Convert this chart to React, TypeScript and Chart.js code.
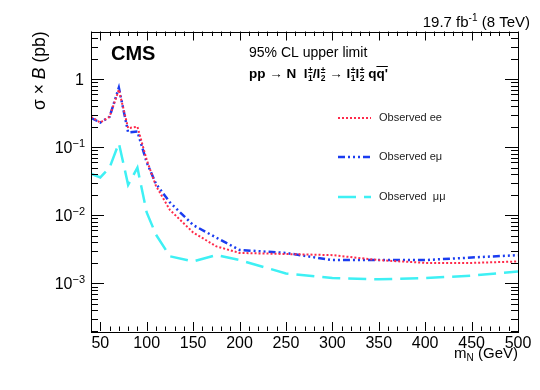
import React, { useEffect, useRef } from "react";
import { Chart, registerables } from "chart.js";

Chart.register(...registerables);

// ---- data ----
const massPoints = [40, 50, 60, 70, 80, 90, 100, 110, 125, 150, 175, 200, 250, 300, 350, 400, 450, 500];
const observedEE = [0.28, 0.23, 0.28, 0.7, 0.19, 0.2, 0.065, 0.027, 0.012, 0.0056, 0.0035, 0.0028, 0.0027, 0.0026, 0.0022, 0.002, 0.002, 0.0021];
const observedEMu = [0.27, 0.23, 0.28, 0.75, 0.165, 0.17, 0.06, 0.029, 0.0155, 0.0072, 0.0047, 0.0031, 0.0028, 0.0022, 0.0022, 0.0022, 0.0024, 0.0026];
const observedMuMu = [0.041, 0.036, 0.05, 0.115, 0.028, 0.05, 0.011, 0.0052, 0.0025, 0.0021, 0.0026, 0.0022, 0.0014, 0.0012, 0.00115, 0.0012, 0.0013, 0.0015];

const seriesLabels = ["Observed ee", "Observed e\u03bc", "Observed  \u03bc\u03bc"];
const xMajorTicks = [50, 100, 150, 200, 250, 300, 350, 400, 450, 500];
const yMajorExponents = [0, -1, -2, -3];

const X_MIN = 40;
const X_MAX = 500;
const Y_MIN = 2e-4;
const Y_MAX = 5;

const FONT = '"Liberation Sans", Arial, Helvetica, sans-serif';

type Run = { text: string; font: string; dy?: number };

function runsWidth(ctx: CanvasRenderingContext2D, runs: Run[]) {
  let w = 0;
  for (const r of runs) {
    ctx.font = r.font;
    w += ctx.measureText(r.text).width;
  }
  return w;
}

function drawRuns(ctx: CanvasRenderingContext2D, runs: Run[], x: number, y: number, align: "left" | "right" | "center") {
  const w = runsWidth(ctx, runs);
  let cx = align === "left" ? x : align === "right" ? x - w : x - w / 2;
  ctx.textAlign = "left";
  for (const r of runs) {
    ctx.font = r.font;
    ctx.fillText(r.text, cx, y + (r.dy || 0));
    cx += ctx.measureText(r.text).width;
  }
}

const decorPlugin = {
  id: "decor",
  afterDraw(chart: any) {
    const ctx: CanvasRenderingContext2D = chart.ctx;
    const xs = chart.scales.x;
    const ys = chart.scales.y;
    const { left, right, top, bottom } = chart.chartArea;
    ctx.save();
    ctx.fillStyle = "#000";
    ctx.strokeStyle = "#000";
    ctx.lineWidth = 1;
    ctx.textBaseline = "alphabetic";

    // frame
    ctx.strokeRect(Math.round(left) + 0.5, Math.round(top) + 0.5, Math.round(right - left), Math.round(bottom - top));

    // x ticks (inward, bottom and top)
    ctx.beginPath();
    for (let v = X_MIN; v <= X_MAX; v += 10) {
      const px = Math.round(xs.getPixelForValue(v)) + 0.5;
      const len = v % 50 === 0 ? 9 : 4.5;
      ctx.moveTo(px, bottom);
      ctx.lineTo(px, bottom - len);
      ctx.moveTo(px, top);
      ctx.lineTo(px, top + len);
    }
    // y ticks (inward, left and right)
    for (let e = -4; e <= 0; e++) {
      for (let k = 1; k <= 9; k++) {
        const v = k * Math.pow(10, e);
        if (v < Y_MIN * 0.999 || v > Y_MAX * 1.001) continue;
        const py = Math.round(ys.getPixelForValue(v)) + 0.5;
        const len = k === 1 ? 13 : 7;
        ctx.moveTo(left, py);
        ctx.lineTo(left + len, py);
        ctx.moveTo(right, py);
        ctx.lineTo(right - len, py);
      }
    }
    ctx.stroke();

    // x tick labels
    ctx.font = `16px ${FONT}`;
    ctx.textAlign = "center";
    for (const v of xMajorTicks) {
      ctx.fillText(String(v), xs.getPixelForValue(v), bottom + 16.5);
    }

    // y tick labels
    for (const e of yMajorExponents) {
      const py = ys.getPixelForValue(Math.pow(10, e)) + 6;
      if (e === 0) {
        drawRuns(ctx, [{ text: "1", font: `16px ${FONT}` }], left - 7, py, "right");
      } else {
        drawRuns(
          ctx,
          [
            { text: "10", font: `16px ${FONT}` },
            { text: "\u2212" + String(-e), font: `11px ${FONT}`, dy: -6.5 },
          ],
          left - 6,
          py,
          "right"
        );
      }
    }

    // x axis title
    drawRuns(
      ctx,
      [
        { text: "m", font: `15px ${FONT}` },
        { text: "N", font: `10px ${FONT}`, dy: 3 },
        { text: " (GeV)", font: `15px ${FONT}` },
      ],
      right,
      bottom + 27,
      "right"
    );

    // y axis title (rotated, right-aligned to top of frame)
    ctx.save();
    ctx.translate(45, top);
    ctx.rotate(-Math.PI / 2);
    drawRuns(
      ctx,
      [
        { text: "\u03c3 \u00d7 ", font: `17.5px ${FONT}` },
        { text: "B", font: `italic 17.5px ${FONT}` },
        { text: " (pb)", font: `17.5px ${FONT}` },
      ],
      0,
      0,
      "right"
    );
    ctx.restore();

    // lumi label
    drawRuns(
      ctx,
      [
        { text: "19.7 fb", font: `15px ${FONT}` },
        { text: "-1", font: `10px ${FONT}`, dy: -6 },
        { text: " (8 TeV)", font: `15px ${FONT}` },
      ],
      530,
      top - 5,
      "right"
    );

    // CMS
    ctx.font = `bold 20px ${FONT}`;
    ctx.textAlign = "left";
    ctx.fillText("CMS", 111, 60);

    // 95% CL
    ctx.font = `14px ${FONT}`;
    ctx.fillText("95% CL upper limit", 249, 57);

    // process line
    {
      let x = 249;
      const y = 78;
      const big = `bold 13.5px ${FONT}`;
      const norm = `13.5px ${FONT}`;
      const small = `bold 8.5px ${FONT}`;
      const put = (t: string, f: string) => {
        ctx.font = f;
        ctx.fillText(t, x, y);
        x += ctx.measureText(t).width;
      };
      const lep = (sub: string) => {
        ctx.font = big;
        ctx.fillText("l", x, y);
        x += ctx.measureText("l").width + 0.5;
        ctx.font = small;
        ctx.fillText("\u00b1", x, y - 5.5);
        ctx.fillText(sub, x, y + 3);
        x += Math.max(ctx.measureText("\u00b1").width, ctx.measureText(sub).width);
      };
      put("pp ", big);
      put("\u2192", norm);
      put(" N  ", big);
      lep("1");
      put("/", big);
      lep("2");
      put(" ", big);
      put("\u2192", norm);
      put(" ", big);
      lep("1");
      lep("2");
      put(" q", big);
      const qStart = x;
      put("q'", big);
      ctx.beginPath();
      ctx.lineWidth = 1;
      ctx.moveTo(qStart, y - 11.5);
      ctx.lineTo(x, y - 11.5);
      ctx.stroke();
    }

    // legend
    const legendY = [118, 157, 197];
    chart.data.datasets.forEach((ds: any, i: number) => {
      const y = legendY[i];
      ctx.save();
      ctx.strokeStyle = ds.borderColor;
      ctx.lineWidth = ds.borderWidth;
      ctx.setLineDash(ds.borderDash || []);
      ctx.beginPath();
      ctx.moveTo(338, y);
      ctx.lineTo(371, y);
      ctx.stroke();
      ctx.restore();
      ctx.font = `11px ${FONT}`;
      ctx.textAlign = "left";
      ctx.textBaseline = "middle";
      ctx.fillStyle = "#222";
      ctx.fillText(ds.label, 379, y);
      ctx.textBaseline = "alphabetic";
    });

    ctx.restore();
  },
};

export default function App() {
  const ref = useRef<HTMLCanvasElement | null>(null);
  useEffect(() => {
    if (!ref.current) return;
    const mk = (vals: number[]) => massPoints.map((m, i) => ({ x: m, y: vals[i] }));
    const chart = new Chart(ref.current, {
      type: "line",
      data: {
        datasets: [
          {
            label: seriesLabels[0],
            data: mk(observedEE),
            borderColor: "#ff2a4a",
            borderWidth: 2,
            borderDash: [2, 2],
            pointRadius: 0,
            fill: false,
          },
          {
            label: seriesLabels[1],
            data: mk(observedEMu),
            borderColor: "#1a3cf0",
            borderWidth: 2.5,
            borderDash: [7, 3, 2, 3, 2, 3, 2, 3],
            pointRadius: 0,
            fill: false,
          },
          {
            label: seriesLabels[2],
            data: mk(observedMuMu),
            borderColor: "#3ef0f4",
            borderWidth: 2.5,
            borderDash: [18, 8],
            pointRadius: 0,
            fill: false,
          },
        ],
      },
      options: {
        responsive: false,
        animation: false,
        layout: { padding: { left: 91, right: 22, top: 31.5, bottom: 59 } },
        scales: {
          x: { type: "linear", min: X_MIN, max: X_MAX, display: false },
          y: { type: "logarithmic", min: Y_MIN, max: Y_MAX, display: false },
        },
        plugins: { legend: { display: false }, tooltip: { enabled: false } },
        elements: { line: { tension: 0 } },
      },
      plugins: [decorPlugin],
    });
    return () => chart.destroy();
  }, []);
  return (
    <div style={{ position: "absolute", left: 0, top: 0, width: 540, height: 390, background: "#fff" }}>
      <canvas ref={ref} width={540} height={390} />
    </div>
  );
}
